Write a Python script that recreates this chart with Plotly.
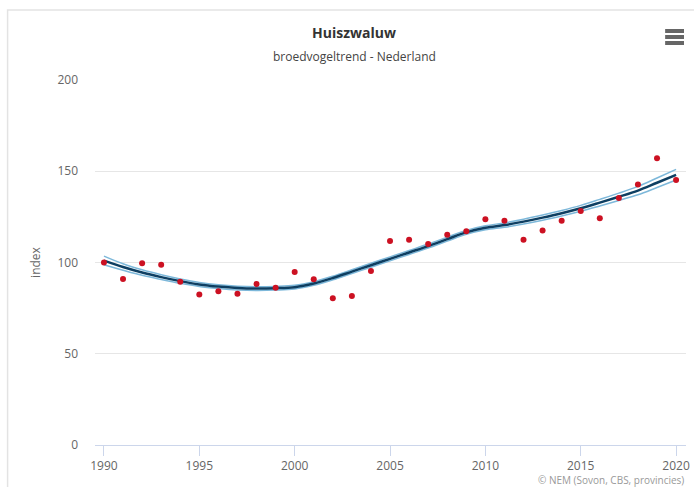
import plotly.graph_objects as go

years = list(range(1990, 2021))
index_values = [100, 91.0, 99.6, 98.8, 89.5, 82.4, 84.2, 82.9, 88.2, 86.2,
                94.8, 90.8, 80.4, 81.6, 95.3, 111.8, 112.5, 110.1, 115.2, 117.1,
                123.7, 122.9, 112.5, 117.6, 122.9, 128.2, 124.2, 135.3, 142.8, 157.1,
                145.2]
trend = [101, 97.5, 94.5, 92, 89.8, 88, 86.8, 86, 85.7, 85.9,
         86.5, 88.5, 91.5, 95, 98.5, 102, 105.5, 109, 112.8, 116.5,
         119, 120.5, 122.4, 124.6, 127, 129.7, 132.8, 136, 139.4, 143.7,
         148]
trend_upper = [103.5, 99.3, 96, 93.3, 91, 89.1, 87.8, 87, 86.7, 86.9,
               87.5, 89.5, 92.5, 96, 99.6, 103.1, 106.6, 110.1, 113.9, 117.6,
               120.1, 121.7, 123.7, 126, 128.5, 131.3, 134.6, 138, 141.7, 146.3,
               151]
trend_lower = [98.8, 95.8, 93, 90.7, 88.6, 86.9, 85.8, 85, 84.7, 84.9,
               85.5, 87.5, 90.5, 94, 97.4, 100.9, 104.4, 107.9, 111.7, 115.4,
               117.9, 119.3, 121.1, 123.2, 125.5, 128.1, 131, 134, 137.1, 141.1,
               145.2]
y_ticks = [0, 50, 100, 150, 200]
x_ticks = [1990, 1995, 2000, 2005, 2010, 2015, 2020]

L, R, T, B = 95, 4, 80, 42
W, H = 694, 487
pw, ph = W - L - R, H - T - B

def px(x):
    return (x - L) / pw

def py(y):
    return (H - B - y) / ph

fig = go.Figure()
fig.add_trace(go.Scatter(x=years, y=trend_upper, mode="lines",
                         line=dict(color="#7db8da", width=1.5, shape="spline"), hoverinfo="skip"))
fig.add_trace(go.Scatter(x=years, y=trend_lower, mode="lines",
                         line=dict(color="#7db8da", width=1.5, shape="spline"), hoverinfo="skip"))
fig.add_trace(go.Scatter(x=years, y=trend, mode="lines",
                         line=dict(color="#0e3f62", width=2.5, shape="spline"), hoverinfo="skip"))
fig.add_trace(go.Scatter(x=years, y=index_values, mode="markers",
                         marker=dict(color="#cc1122", size=6)))

shapes = [
    dict(type="rect", xref="paper", yref="paper", x0=px(7), x1=px(720), y0=py(520), y1=py(10),
         line=dict(color="#e3e3e3", width=1.5), fillcolor="rgba(0,0,0,0)", layer="below"),
]
for yy in (31, 37, 43):
    shapes.append(dict(type="rect", xref="paper", yref="paper", x0=px(669), x1=px(688),
                       y0=py(yy + 2), y1=py(yy - 2), line=dict(width=0), fillcolor="#666666"))

annotations = [
    dict(text="<b>Huiszwaluw</b>", xref="paper", yref="paper", x=px(356), y=py(32),
         showarrow=False, font=dict(size=14, color="#333333", family="Open Sans"),
         xanchor="center", yanchor="middle"),
    dict(text="broedvogeltrend - Nederland", xref="paper", yref="paper", x=px(356), y=py(56),
         showarrow=False, font=dict(size=12, color="#444444", family="Open Sans"),
         xanchor="center", yanchor="middle"),
    dict(text="© NEM (Sovon, CBS, provincies)", xref="paper", yref="paper", x=px(690), y=py(480),
         showarrow=False, font=dict(size=10, color="#999999", family="Open Sans"),
         xanchor="right", yanchor="middle"),
]

fig.update_layout(
    width=W, height=H,
    margin=dict(l=L, r=R, t=T, b=B),
    paper_bgcolor="white", plot_bgcolor="white",
    showlegend=False,
    shapes=shapes, annotations=annotations,
    font=dict(family="Open Sans", color="#666666", size=12),
    xaxis=dict(range=[1989.53, 2020.52], tickvals=x_ticks, ticktext=[str(v) for v in x_ticks],
               showgrid=False, zeroline=False, showline=True, linecolor="#ccd6eb", linewidth=1,
               ticks="outside", ticklen=10, tickcolor="#ccd6eb",
               tickfont=dict(size=12, color="#666666")),
    yaxis=dict(range=[0, 200], tickvals=y_ticks, showgrid=True, gridcolor="#e6e6e6",
               zeroline=False, showline=False, ticks="", ticklabelstandoff=16,
               tickfont=dict(size=12, color="#666666"),
               title=dict(text="index", font=dict(size=12, color="#666666"), standoff=14)),
)

fig.write_html("out.html", config={"displayModeBar": False},
               post_script="document.body.style.margin='0';document.body.style.overflow='hidden';")
